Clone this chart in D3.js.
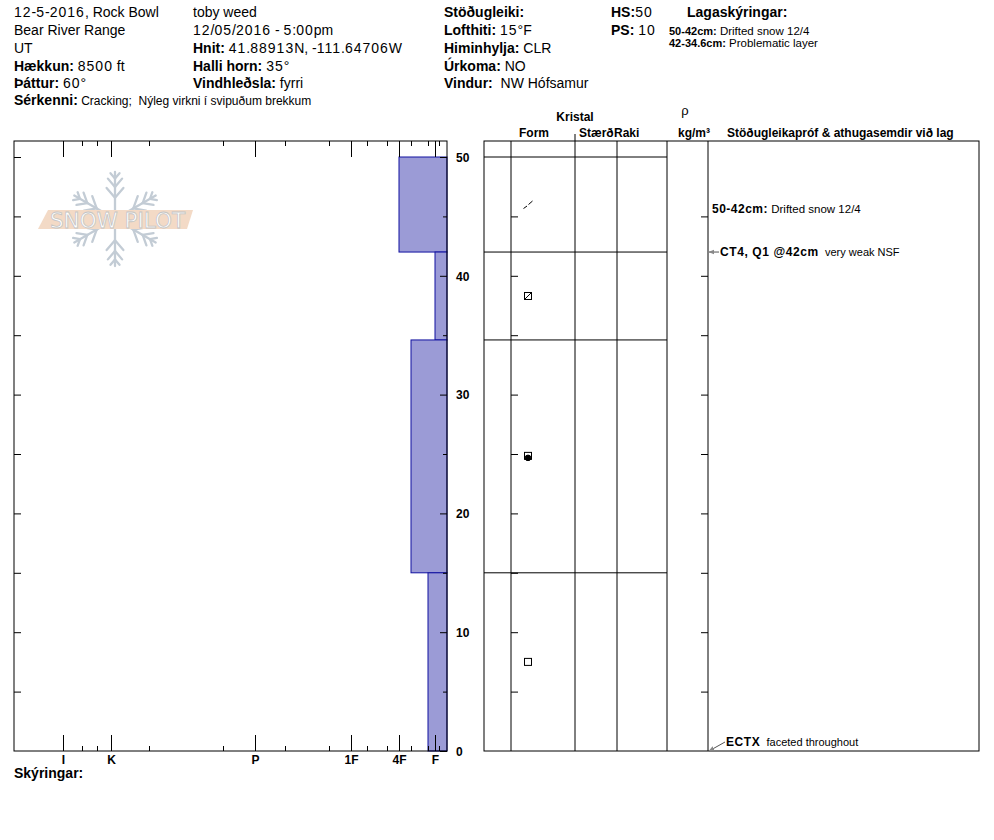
<!DOCTYPE html>
<meta charset="utf-8">

<style>
body { margin: 0; background: #fff; }
svg { font-family: "Liberation Sans", Arial, sans-serif; }
svg text { white-space: pre; }
.axis text { font-weight: bold; font-size: 12px; font-family: "Liberation Sans", Arial, sans-serif; }
</style>

<body>

<script src="https://d3js.org/d3.v7.min.js"></script>

<script>

// snow layers, top to bottom (cm)
var layerTop = [50, 42, 34.6, 15];
var layerBottom = [42, 34.6, 15, 0];
var layerHardness = ["4F", "F", "4F-", "F+"];
var layerGrain = ["DF", "FCxr", "MFcr", "FC"];

// hand hardness scale (distance from the right edge)
var hardCodes  = ["F-", "F", "F+", "4F-", "4F", "4F+", "1F-", "1F", "1F+", "P-", "P", "P+", "K-", "K", "K+", "I-", "I"];
var hardValues = [8, 12, 19, 36, 48, 60, 80, 96, 118, 162, 192, 224, 298, 336, 350, 365, 384];
var hardMajor  = ["I", "K", "P", "1F", "4F", "F"];

var depthTicks = [0, 10, 20, 30, 40, 50];
var depthMinor = [5, 15, 25, 35, 45];
var depthAll   = [5, 10, 15, 20, 25, 30, 35, 40, 45];

// header
var headLeft = [["", "12-5-2016, Rock Bowl"], ["", "Bear River Range"], ["", "UT"],
                ["Hækkun:", " 8500 ft"], ["Þáttur:", " 60°"]];
var headMid  = [["", "toby weed"], ["", "12/05/2016 - 5:00pm"], ["Hnit:", " 41.88913N, -111.64706W"],
                ["Halli horn:", " 35°"], ["Vindhleðsla:", " fyrri"]];
var headWx   = [["Stöðugleiki:", ""], ["Lofthiti:", " 15°F"], ["Himinhylja:", " CLR"],
                ["Úrkoma:", " NO"], ["Vindur:", "  NW Hófsamur"]];
var headDepth = [["HS:", "50"], ["PS:", " 10"]];
var notesLabel = "Sérkenni:";
var notesText = " Cracking;  Nýleg virkni í svipuðum brekkum";

// layer notes
var legendRange = ["50-42cm:", "42-34.6cm:"];
var legendText  = [" Drifted snow 12/4", " Problematic layer"];
var commentDepth = [46];
var commentRange = ["50-42cm:"];
var commentText  = " Drifted snow 12/4".split("|");

// stability tests
var testDepth = [42, 0];
var testLabel = ["CT4, Q1 @42cm", "ECTX"];
var testNote  = ["  very weak NSF", "  faceted throughout"];

var width = 994, height = 840;

var svg = d3.select("body").append("svg")
    .attr("width", width)
    .attr("height", height);

var x = d3.scaleLinear().domain([0, 433]).range([447, 14]);
var y = d3.scaleLinear().domain([0, 50]).range([751, 157]);

function hard(code) { return hardValues[hardCodes.indexOf(code)]; }

// digits come out wider in the original renderer
function addRuns(t, str, spacing) {
  str.split(/(\d+)/).forEach(function(s) {
    if (!s) return;
    var ts = t.append("tspan").text(s);
    if (/^\d+$/.test(s) && spacing) ts.style("letter-spacing", spacing + "px");
  });
}

function addLine(px, py, label, value, size, valueSize, spacing) {
  var t = svg.append("text").attr("x", px).attr("y", py)
      .style("font-size", size + "px");
  if (label) t.append("tspan").attr("font-weight", "bold").text(label);
  if (value) {
    var g = t.append("tspan").style("font-size", (valueSize || size) + "px");
    addRuns(g, value, spacing);
  }
  return t;
}

var headBase = [17, 35, 53, 70.5, 88];
headLeft.forEach(function(d, i) { addLine(14, headBase[i], d[0], d[1], 14, 14, 1); });
headMid.forEach(function(d, i) { addLine(193, headBase[i], d[0], d[1], 14, 14, 1); });
headWx.forEach(function(d, i) { addLine(444, headBase[i], d[0], d[1], 14, 14, 1); });
headDepth.forEach(function(d, i) { addLine(611, headBase[i], d[0], d[1], 14, 14, 1); });
addLine(14, 105, notesLabel, notesText, 14, 12);

svg.append("text").attr("x", 687).attr("y", 17)
    .attr("font-weight", "bold").style("font-size", "14px").text("Lagaskýringar:");
legendRange.forEach(function(d, i) {
  var t = svg.append("text").attr("x", 669).attr("y", 35 + i * 12).style("font-size", "11.5px");
  t.append("tspan").attr("font-weight", "bold").style("font-size", "11px").text(d);
  t.append("tspan").text(legendText[i]);
});

// snowpilot watermark
var logo = svg.append("g").attr("stroke", "#c3ccd5").attr("stroke-width", 2.3)
    .attr("stroke-linecap", "round").attr("fill", "none");
var cx = 115, cy = 219, R = 47;
d3.range(6).forEach(function(k) {
  var a = k * Math.PI / 3;
  var ux = Math.sin(a), uy = -Math.cos(a);
  logo.append("line").attr("x1", cx + ux * 8).attr("y1", cy + uy * 8)
      .attr("x2", cx + ux * R).attr("y2", cy + uy * R);
  [[0.45, 13], [0.68, 11], [0.86, 7]].forEach(function(b) {
    var bx = cx + ux * R * b[0], by = cy + uy * R * b[0];
    [-1, 1].forEach(function(s) {
      var ba = a + s * 0.7;
      logo.append("line").attr("x1", bx).attr("y1", by)
          .attr("x2", bx + Math.sin(ba) * b[1]).attr("y2", by - Math.cos(ba) * b[1]);
    });
  });
});
svg.append("polygon").attr("points", "38,229 48,210 193,210 187,229")
    .attr("fill", "#f3dac6");
svg.append("text").attr("x", 50).attr("y", 227.5)
    .attr("textLength", 135).attr("lengthAdjust", "spacingAndGlyphs")
    .style("font-family", "'DejaVu Sans', sans-serif").style("font-size", "22px")
    .attr("fill", "#fff").attr("stroke", "#c4c4c4").attr("stroke-width", 0.8)
    .text("SNOW PILOT");

// hardness bars
svg.append("g").selectAll("rect")
  .data(layerTop)
  .enter().append("rect")
    .attr("x", function(d, i) { return x(hard(layerHardness[i])); })
    .attr("y", function(d) { return y(d); })
    .attr("width", function(d, i) { return x(0) - x(hard(layerHardness[i])); })
    .attr("height", function(d, i) { return y(layerBottom[i]) - y(d); })
    .attr("fill", "#9b9bd6")
    .attr("stroke", "#1010a0");

// left frame
svg.append("rect").attr("x", 14).attr("y", 141).attr("width", 433).attr("height", 610)
    .attr("fill", "none").attr("stroke", "#000");

var majorVals = hardMajor.map(hard);
var minorVals = hardCodes.filter(function(c) { return hardMajor.indexOf(c) < 0; }).map(hard);

svg.append("g").attr("class", "axis").attr("transform", "translate(0,141)")
    .call(d3.axisBottom(x).tickValues(majorVals).tickSize(16).tickFormat(""))
    .call(function(g) { g.select(".domain").remove(); });
svg.append("g").attr("class", "axis").attr("transform", "translate(0,141)")
    .call(d3.axisBottom(x).tickValues(minorVals).tickSize(5).tickFormat(""))
    .call(function(g) { g.select(".domain").remove(); });

svg.append("g").attr("class", "axis").attr("transform", "translate(0,751)")
    .call(d3.axisBottom(x).tickValues(majorVals).tickSizeInner(-16).tickSizeOuter(0)
      .tickPadding(4).tickFormat(function(d) { return hardCodes[hardValues.indexOf(d)]; }))
    .call(function(g) { g.select(".domain").remove(); });
svg.append("g").attr("class", "axis").attr("transform", "translate(0,751)")
    .call(d3.axisBottom(x).tickValues(minorVals).tickSizeInner(-5).tickFormat(""))
    .call(function(g) { g.select(".domain").remove(); });

svg.append("g").attr("class", "axis").attr("transform", "translate(14,0)")
    .call(d3.axisRight(y).tickValues(depthAll.concat([50])).tickSize(7).tickFormat(""))
    .call(function(g) { g.select(".domain").remove(); });
svg.append("g").attr("class", "axis").attr("transform", "translate(447,0)")
    .call(d3.axisRight(y).tickValues(depthTicks).tickSizeInner(-7).tickPadding(9))
    .call(function(g) { g.select(".domain").remove(); g.selectAll("text").attr("dy", "0.36em"); });
svg.append("g").attr("class", "axis").attr("transform", "translate(447,0)")
    .call(d3.axisLeft(y).tickValues(depthMinor).tickSize(4).tickFormat(""))
    .call(function(g) { g.select(".domain").remove(); });

svg.append("text").attr("x", 14).attr("y", 778)
    .attr("font-weight", "bold").style("font-size", "14px").text("Skýringar:");

// right panel
var colX = [484, 511, 575, 617, 667, 708, 979];
var panel = svg.append("g").attr("stroke", "#000").attr("fill", "none");
panel.append("rect").attr("x", 484).attr("y", 141).attr("width", 495).attr("height", 610);
colX.slice(1, -1).forEach(function(cx) {
  panel.append("line").attr("x1", cx).attr("x2", cx).attr("y1", 141).attr("y2", 751);
});
panel.append("line").attr("x1", 575).attr("x2", 575).attr("y1", 134).attr("y2", 141);
layerTop.forEach(function(d) {
  panel.append("line").attr("x1", 484).attr("x2", 667).attr("y1", y(d)).attr("y2", y(d));
});

svg.append("g").attr("class", "axis").attr("transform", "translate(511,0)")
    .call(d3.axisRight(y).tickValues(depthAll).tickSize(7).tickFormat(""))
    .call(function(g) { g.select(".domain").remove(); });
svg.append("g").attr("class", "axis").attr("transform", "translate(708,0)")
    .call(d3.axisLeft(y).tickValues(depthAll).tickSize(7).tickFormat(""))
    .call(function(g) { g.select(".domain").remove(); });

var hdr = svg.append("g").attr("font-weight", "bold").style("font-size", "12px");
hdr.append("text").attr("x", 575).attr("y", 121).attr("text-anchor", "middle").text("Kristal");
hdr.append("text").attr("x", 519).attr("y", 137).text("Form");
hdr.append("text").attr("x", 579).attr("y", 137).text("Stærð");
hdr.append("text").attr("x", 614).attr("y", 137).text("Raki");
hdr.append("text").attr("x", 685).attr("y", 115).attr("text-anchor", "middle")
    .attr("font-weight", "normal").style("font-size", "13px").text("ρ");
hdr.append("text").attr("x", 694).attr("y", 137).attr("text-anchor", "middle").text("kg/m³");
hdr.append("text").attr("x", 727).attr("y", 137).text("Stöðugleikapróf & athugasemdir við lag");

// grain form symbols
function grain(code, px, py) {
  var g = svg.append("g").attr("transform", "translate(" + px + "," + py + ")")
      .attr("stroke", "#000").attr("fill", "none").attr("stroke-width", 1);
  if (code === "DF") {
    g.append("line").attr("x1", -4.5).attr("y1", 4).attr("x2", -1).attr("y2", 1.5);
    g.append("line").attr("x1", 0.5).attr("y1", 0).attr("x2", 4.5).attr("y2", -3.5);
  } else if (code === "FCxr") {
    g.append("rect").attr("x", -3.5).attr("y", -3.5).attr("width", 7).attr("height", 7);
    g.append("line").attr("x1", -3).attr("y1", 3).attr("x2", 3).attr("y2", -3);
  } else if (code === "MFcr") {
    g.append("rect").attr("x", -3.5).attr("y", -4).attr("width", 7).attr("height", 7);
    g.append("circle").attr("cx", 0).attr("cy", 1.5).attr("r", 2.8).attr("fill", "#000");
  } else {
    g.append("rect").attr("x", -3.5).attr("y", -3.5).attr("width", 7).attr("height", 7);
  }
}
layerGrain.forEach(function(c, i) {
  grain(c, 528, y((layerTop[i] + layerBottom[i]) / 2));
});

// comments
commentDepth.forEach(function(d, i) {
  var t = svg.append("text").attr("x", 712).attr("y", y(d) + 8.5).style("font-size", "11.5px");
  t.append("tspan").attr("font-weight", "bold").style("font-size", "12px")
      .style("letter-spacing", "0.5px").text(commentRange[i]);
  t.append("tspan").text(commentText[i]);
});

svg.append("defs").append("marker")
    .attr("id", "arr").attr("viewBox", "0 0 10 10").attr("refX", 9).attr("refY", 5)
    .attr("markerWidth", 6).attr("markerHeight", 6).attr("orient", "auto")
  .append("path").attr("d", "M0,1L10,5L0,9z").attr("fill", "#888");

testDepth.forEach(function(d, i) {
  var base = Math.min(y(d) + 4, 746);
  var raised = base < y(d) + 4;
  var tx = raised ? 726 : 720;
  svg.append("line")
      .attr("x1", tx - 1).attr("y1", base - 4)
      .attr("x2", 709).attr("y2", y(d))
      .attr("stroke", "#555").attr("marker-end", "url(#arr)");
  var t = svg.append("text").attr("x", tx).attr("y", base).style("font-size", "11px");
  t.append("tspan").attr("font-weight", "bold").style("font-size", "12px")
      .style("letter-spacing", "0.6px").text(testLabel[i]);
  t.append("tspan").text(testNote[i]);
});

</script>
</body>
</html>
